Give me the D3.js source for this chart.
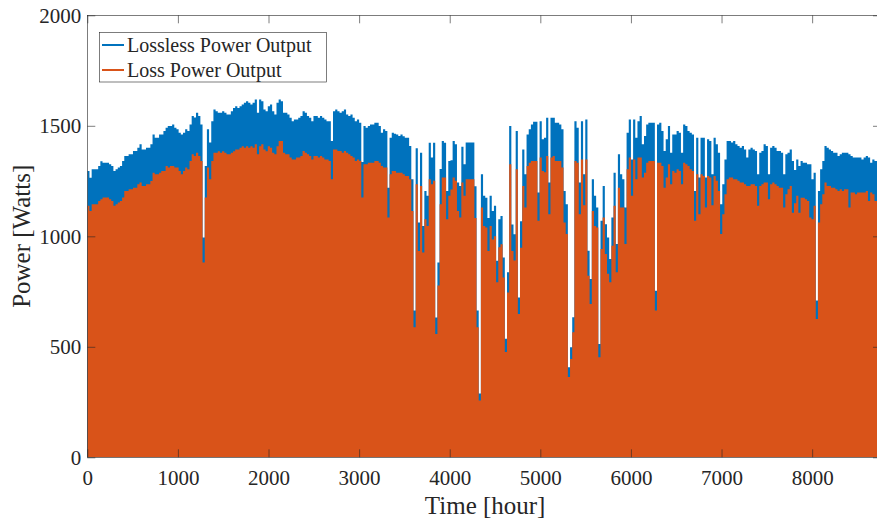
<!DOCTYPE html>
<html>
<head>
<meta charset="utf-8">
<script src="https://cdn.jsdelivr.net/npm/d3@7"></script>
<style>
  body { margin: 0; background: #fff; }
  text { font-family: "Liberation Serif", "Times New Roman", serif; fill: #262626; }
</style>
</head>
<body>
<svg id="chart" width="877" height="523"></svg>
<script>
// daily peak power [W], one value per day (day 0 .. 364)
const lossless = [
  1296,1265,1303,1303,1303,1318,1340,1333,1333,1333,
  1326,1318,1296,1303,1311,1318,1341,1363,1363,1371,
  1371,1386,1386,1401,1416,1393,1393,1401,1401,1416,
  1461,1446,1446,1461,1461,1476,1491,1499,1499,1506,
  1491,1484,1469,1461,1469,1484,1476,1506,1544,1537,
  1559,1544,1506, 995,1318,1484,1424,1521,1574,1566,
  1559,1559,1566,1559,1551,1551,1566,1581,1589,1581,
  1589,1596,1604,1611,1604,1596,1604,1619,1559,1619,
  1611,1574,1566,1589,1596,1566,1551,1604,1619,1611,
  1559,1559,1551,1536,1521,1529,1529,1536,1544,1566,
  1559,1544,1536,1521,1544,1544,1536,1544,1536,1529,
  1521,1521,1431,1566,1574,1566,1559,1566,1574,1551,
  1544,1551,1536,1521,1529,1514,1336,1499,1491,1499,
  1506,1506,1514,1514,1499,1469,1484,1476,1220,1446,
  1469,1464,1461,1454,1461,1453,1446,1446,1409,1258,
   664,1398,1062,1378,1047,1205,1183,1423,1356,1423,
   633, 882,1305,1431,1423,1205,1341,1344,1431,1416,
  1243,1228,1405,1326,1424,1424,1424,1424,1226, 664,
   289,1281,1183,1175,1083,1183,1115,1138, 889,1077,
  1092, 904, 536, 837,1499,1053,1009,1477, 723,1068,
  1393,1281,1461,1484,1506,1518,1518,1198,1521,1439,
  1446,1536,1243,1536,1536,1514,1514,1506,1484,1205,
  1145, 408, 498, 634,1521,1491,1243,1521,1281,1529,
   935, 807,1258,1183,1130, 513,1070,1228,1055, 995,
   897,1085,1288, 965,1371,1281,1258,1130,1469,1529,
  1348,1529,1446,1521,1544,1416,1454,1506,1514,1514,
  1514, 754,1506,1514,1476,1386,1439,1499,1378,1461,
  1461,1476,1469,1378,1506,1499,1476,1469,1461,1205,
  1446,1266,1446,1446,1266,1439,1431,1281,1446,1416,
  1378,1145,1235,1348,1431,1431,1424,1431,1416,1409,
  1401,1409,1393,1356,1393,1401,1393,1386,1281,1378,
  1386,1416,1409,1281,1401,1409,1401,1386,1386,1378,
  1281,1371,1378,1393,1341,1300,1348,1318,1341,1333,
  1333,1326,1326,1258,1288, 709,1205,1303,1341,1409,
  1401,1393,1386,1378,1378,1363,1371,1378,1378,1378,
  1371,1363,1356,1356,1356,1356,1348,1356,1363,1356,
  1333,1348,1341,1341,1341
]

const loss = [
  1138,1115,1145,1145,1145,1160,1168,1176,1176,1176,
  1168,1160,1138,1145,1153,1160,1176,1205,1205,1213,
  1213,1220,1220,1235,1243,1228,1228,1235,1235,1250,
  1288,1281,1281,1288,1296,1296,1318,1311,1318,1318,
  1311,1311,1296,1281,1296,1311,1303,1341,1371,1363,
  1378,1363,1341, 882,1176,1311,1258,1341,1378,1378,
  1385,1378,1385,1378,1371,1371,1378,1385,1393,1393,
  1401,1408,1401,1408,1401,1408,1401,1416,1371,1408,
  1416,1393,1385,1408,1401,1378,1371,1408,1431,1431,
  1378,1371,1371,1356,1348,1348,1356,1356,1363,1386,
  1378,1371,1363,1348,1363,1363,1356,1363,1356,1348,
  1348,1341,1258,1393,1393,1386,1386,1378,1386,1378,
  1371,1363,1356,1341,1348,1341,1176,1326,1326,1333,
  1333,1333,1341,1341,1333,1318,1311,1311,1085,1281,
  1296,1296,1288,1288,1288,1281,1273,1273,1258,1115,
   588,1235, 934,1228, 927,1077,1047,1258,1235,1251,
   558, 777,1145,1266,1266,1077,1183,1212,1266,1251,
  1115,1085,1243,1183,1258,1258,1258,1258,1083, 588,
   257,1130,1047,1040, 934,1047, 985,1000, 792, 950,
   964, 814, 476, 746,1326, 934, 890,1303, 648, 948,
  1228,1130,1318,1333,1341,1341,1341,1070,1356,1296,
  1290,1363,1100,1356,1363,1341,1341,1341,1311,1062,
  1010, 363, 445, 566,1341,1333,1100,1348,1140,1348,
   822, 694,1115,1047,1040, 453, 942,1085, 920, 830,
   792, 957,1138, 837,1220,1130,1130, 965,1303,1356,
  1183,1348,1258,1356,1356,1266,1288,1333,1341,1341,
  1341, 664,1333,1333,1318,1220,1266,1326,1236,1296,
  1288,1303,1296,1236,1333,1326,1318,1303,1296,1070,
  1281,1100,1281,1273,1130,1273,1266,1140,1273,1251,
  1205,1010,1100,1190,1258,1266,1266,1258,1258,1251,
  1243,1243,1236,1228,1228,1236,1236,1228,1138,1228,
  1236,1243,1243,1168,1236,1243,1236,1228,1220,1220,
  1130,1190,1213,1228,1107,1150,1183,1107,1175,1175,
  1168,1160,1085,1077,1138, 626,1062,1145,1190,1243,
  1228,1228,1220,1220,1213,1205,1213,1205,1213,1213,
  1130,1198,1198,1190,1198,1198,1198,1198,1205,1160,
  1198,1190,1160,1160,1190
]

const xTicks = [0, 1000, 2000, 3000, 4000, 5000, 6000, 7000, 8000]
const yTicks = [0, 500, 1000, 1500, 2000]
const seriesNames = ['Lossless Power Output', 'Loss Power Output']
const colors = ['#0072BD', '#D95319']

const hoursPerDay = 24,
    plotLeft = 87.3, plotRight = 881,
    plotTop = 15.3, plotBottom = 457.3

const svg = d3.select('#chart')

const x = d3.scaleLinear().domain([0, 8760]).range([plotLeft, plotRight])
const y = d3.scaleLinear().domain([0, 2000]).range([plotBottom, plotTop])

svg.append('clipPath').attr('id', 'plotclip')
    .append('rect')
    .attr('x', plotLeft).attr('y', plotTop)
    .attr('width', plotRight - plotLeft).attr('height', plotBottom - plotTop)

// turn a list of daily peaks into step points (start of each day, plus the closing hour)
const steps = (vals) => {
    const pts = vals.map((v, i) => ({ h: i * hoursPerDay, v: v }))
    pts.push({ h: vals.length * hoursPerDay, v: vals[vals.length - 1] })
    return pts
}

const area = d3.area()
    .curve(d3.curveStepAfter)
    .x(d => x(d.h))
    .y0(y(0))
    .y1(d => y(d.v))

const plot = svg.append('g').attr('clip-path', 'url(#plotclip)')

plot.selectAll('path.series')
    .data([lossless, loss])
    .enter().append('path')
    .attr('class', 'series')
    .attr('d', d => area(steps(d)))
    .attr('fill', (d, i) => colors[i])

// axes, ticks pointing inward as in MATLAB
const axisColor = '#262626'
const fmt = d3.format('d')

svg.append('g')
    .attr('transform', `translate(0, ${plotBottom})`)
    .call(d3.axisBottom(x).tickValues(xTicks).tickFormat(fmt).tickSizeInner(-8).tickSizeOuter(0).tickPadding(13))
svg.append('g')
    .attr('transform', `translate(0, ${plotTop})`)
    .call(d3.axisTop(x).tickValues(xTicks).tickSizeInner(-8).tickSizeOuter(0).tickFormat(''))
svg.append('g')
    .attr('transform', `translate(${plotLeft}, 0)`)
    .call(d3.axisLeft(y).tickValues(yTicks).tickFormat(fmt).tickSizeInner(-8).tickSizeOuter(0).tickPadding(6))
svg.append('g')
    .attr('transform', `translate(${plotRight}, 0)`)
    .call(d3.axisRight(y).tickValues(yTicks).tickSizeInner(-8).tickSizeOuter(0).tickFormat(''))

svg.selectAll('.domain').remove()
svg.selectAll('.tick line').attr('stroke', axisColor).attr('stroke-width', 0.6)
svg.selectAll('.tick text')
    .style('font-size', '21px')
    .attr('fill', axisColor)

svg.append('rect')
    .attr('x', plotLeft).attr('y', plotTop)
    .attr('width', plotRight - plotLeft).attr('height', plotBottom - plotTop)
    .attr('fill', 'none')
    .attr('stroke', axisColor)
    .attr('stroke-width', 0.6)

svg.append('text')
    .attr('x', (plotLeft + 877) / 2 + 3)
    .attr('y', 514)
    .attr('text-anchor', 'middle')
    .style('font-size', '25px')
    .text('Time [hour]')

svg.append('text')
    .attr('transform', `translate(30, ${(plotTop + plotBottom) / 2}) rotate(-90)`)
    .attr('text-anchor', 'middle')
    .style('font-size', '25px')
    .text('Power [Watts]')

// legend
const legend = svg.append('g')
legend.append('rect')
    .attr('x', 99.5).attr('y', 32.5)
    .attr('width', 227).attr('height', 49.5)
    .attr('fill', '#fff')
    .attr('stroke', axisColor)
    .attr('stroke-width', 0.6)

const item = legend.selectAll('g.item')
    .data(seriesNames)
    .enter().append('g')
    .attr('class', 'item')
    .attr('transform', (d, i) => `translate(0, ${45 + i * 25})`)

item.append('line')
    .attr('x1', 102).attr('x2', 124)
    .attr('stroke', (d, i) => colors[i])
    .attr('stroke-width', 2)

item.append('text')
    .attr('x', 127)
    .attr('y', 7)
    .style('font-size', '20px')
    .text(d => d)
</script>
</body>
</html>
